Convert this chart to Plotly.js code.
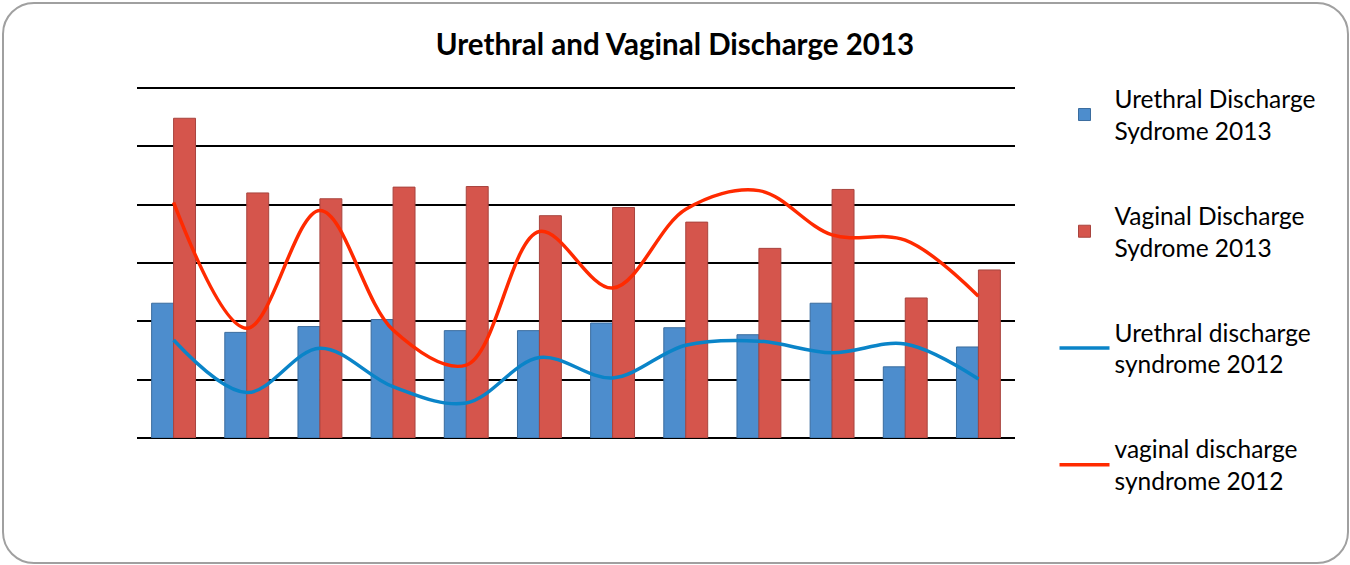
<!DOCTYPE html>
<html>
<head>
<meta charset="utf-8">
<script src="https://cdn.plot.ly/plotly-3.0.1.min.js"></script>
<style>
  html, body { margin: 0; padding: 0; background: #fff; }
  #wrap { position: relative; width: 1350px; height: 565px; }
  #chart { width: 1350px; height: 565px; }
  #frame { position: absolute; left: 2px; top: 2px; width: 1343px; height: 558px;
           border: 2px solid #a0a0a0; border-radius: 32px; pointer-events: none; }
</style>
</head>
<body>
<div id="wrap">
  <div id="chart"></div>
  <div id="frame"></div>
</div>
<script>
const categories = ['Jan', 'Feb', 'Mar', 'Apr', 'May', 'Jun', 'Jul', 'Aug', 'Sep', 'Oct', 'Nov', 'Dec'];
const urethral2013 = [23.1, 18.1, 19.1, 20.3, 18.4, 18.4, 19.7, 18.9, 17.7, 23.1, 12.2, 15.6];
const vaginal2013  = [54.8, 42.0, 41.0, 43.0, 43.1, 38.1, 39.5, 37.0, 32.5, 42.6, 24.0, 28.8];
const urethral2012 = [16.8, 7.8, 15.4, 8.8, 6.0, 13.8, 10.3, 15.9, 16.6, 14.6, 16.1, 10.1];
const vaginal2012  = [40.4, 18.8, 39.0, 18.5, 12.5, 35.4, 25.7, 39.2, 42.4, 34.8, 33.9, 24.3];
const seriesNames = [
  'Urethral Discharge<br>Sydrome 2013',
  'Vaginal Discharge<br>Sydrome 2013',
  'Urethral discharge<br>syndrome 2012',
  'vaginal discharge<br>syndrome 2012'
];

const traces = [
  { type: 'bar', x: categories, y: urethral2013, name: seriesNames[0], legendgroup: 'a',
    marker: { color: '#4d8dcd', line: { color: '#3a6c9e', width: 1 } } },
  { type: 'bar', x: categories, y: vaginal2013, name: seriesNames[1], legendgroup: 'b',
    marker: { color: '#d5554c', line: { color: '#a8443e', width: 1 } } },
  { type: 'scatter', mode: 'lines', x: categories, y: urethral2012, name: seriesNames[2], legendgroup: 'c',
    line: { color: '#0a84c8', width: 3.5, shape: 'spline', smoothing: 1 } },
  { type: 'scatter', mode: 'lines', x: categories, y: vaginal2012, name: seriesNames[3], legendgroup: 'd',
    line: { color: '#ff2a00', width: 3.5, shape: 'spline', smoothing: 1 } }
];

const layout = {
  width: 1350, height: 565,
  margin: { l: 137, r: 335, t: 85, b: 127 },
  paper_bgcolor: '#ffffff', plot_bgcolor: '#ffffff',
  font: { family: 'Lato, "Open Sans", sans-serif', color: '#000', size: 24 },
  title: { text: '<b>Urethral and Vaginal Discharge 2013</b>', xref: 'container', x: 0.5, xanchor: 'center',
           yref: 'container', y: 1 - 45 / 565, yanchor: 'middle',
           font: { family: 'Lato, "Open Sans", sans-serif', size: 29.5, color: '#000' } },
  barmode: 'group', bargap: 0.4, bargroupgap: 0,
  xaxis: { type: 'category', showticklabels: false, ticks: '', showgrid: false, showline: false, zeroline: false, fixedrange: true },
  yaxis: { range: [0, 60.5], tick0: 0, dtick: 10, showticklabels: false, ticks: '', showgrid: true, gridcolor: '#000', gridwidth: 2,
           zeroline: true, zerolinecolor: '#000', zerolinewidth: 2, showline: false, fixedrange: true },
  showlegend: true,
  legend: { x: 1.045, xanchor: 'left', y: 1.025, yanchor: 'top', tracegroupgap: 50, itemwidth: 50,
            maxheight: 500,
            traceorder: 'grouped', font: { size: 24.5, family: 'Lato, "Open Sans", sans-serif', color: '#000' },
            bgcolor: 'rgba(0,0,0,0)' }
};

Plotly.newPlot('chart', traces, layout, { staticPlot: true, displayModeBar: false });
</script>
</body>
</html>
